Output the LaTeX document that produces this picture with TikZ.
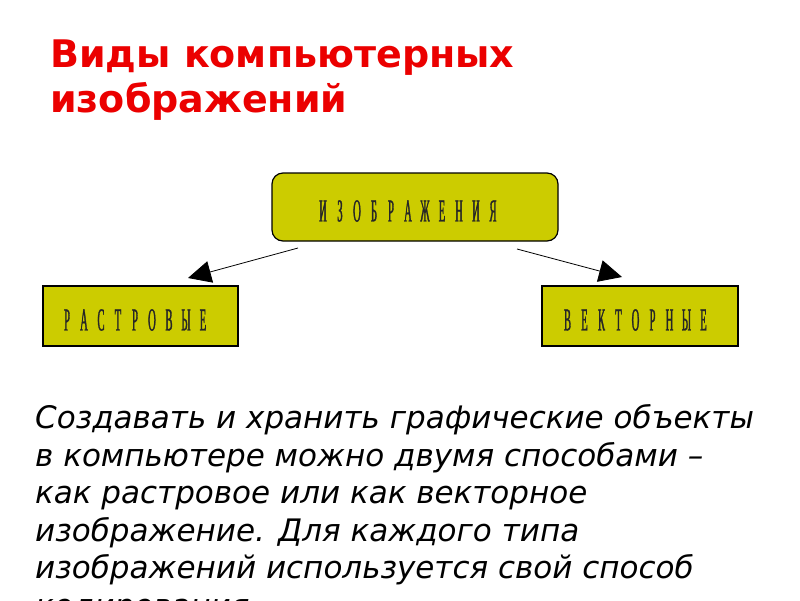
\documentclass[tikz,border=0pt]{standalone}
\usepackage{fontspec}
\setmainfont{DejaVu Sans}
\newfontfamily\boxfont[FakeStretch=0.33,FakeBold=1]{Liberation Serif}
\usetikzlibrary{arrows.meta}
\definecolor{boxfill}{RGB}{204,204,0}
\definecolor{titlered}{RGB}{235,0,0}
\newcommand\ltr[1]{\makebox[17pt][c]{#1}}
\tikzset{
  kindbox/.style={draw=black, line width=1.2pt, fill=boxfill, inner sep=0pt},
  boxtext/.style={font=\boxfont\fontsize{32}{32}\selectfont, text=black!85},
  title/.style={font=\bfseries\fontsize{38}{38}\selectfont, text=titlered, anchor=base west, inner sep=0pt},
  body/.style={font=\itshape\fontsize{31}{31}\selectfont, text=black, anchor=base west, inner sep=0pt},
  arr/.style={line width=0.8pt, -{Triangle[length=23pt,width=22pt]}}
}
\begin{document}
\begin{tikzpicture}[x=1pt,y=-1pt]
\useasboundingbox[fill=white] (0,0) rectangle (800,600);
\begin{scope}
\clip (0,0) rectangle (800,600);
\node[title] (t1) at (50,67) {Виды компьютерных};
\node[title] (t2) at (50,112) {изображений};

\node[kindbox, rounded corners=11pt, minimum width=286pt, minimum height=68pt] (top) at (415,207) {};
\node[boxtext] (toptxt) at (408,211) {\ltr{И}\ltr{З}\ltr{О}\ltr{Б}\ltr{Р}\ltr{А}\ltr{Ж}\ltr{Е}\ltr{Н}\ltr{И}\ltr{Я}};

\node[kindbox, minimum width=195pt, minimum height=60pt] (left) at (140.5,316) {};
\node[boxtext] (lefttxt) at (135,320) {\ltr{Р}\ltr{А}\ltr{С}\ltr{Т}\ltr{Р}\ltr{О}\ltr{В}\ltr{Ы}\ltr{Е}};

\node[kindbox, minimum width=196pt, minimum height=60pt] (right) at (640,316) {};
\node[boxtext] (righttxt) at (635.5,320) {\ltr{В}\ltr{Е}\ltr{К}\ltr{Т}\ltr{О}\ltr{Р}\ltr{Н}\ltr{Ы}\ltr{Е}};

\coordinate (la) at (298,248);
\coordinate (lb) at (188,278);
\coordinate (ra) at (517,249);
\coordinate (rb) at (622,277);
\draw[arr] (la) -- (lb);
\draw[arr] (ra) -- (rb);

\node[body] (b1) at (35,428) {Создавать и хранить графические объекты};
\node[body] (b2) at (35,466) {в компьютере можно двумя способами –};
\node[body] (b3) at (35,503) {как растровое или как векторное};
\node[body] (b4) at (35,541) {изображение. Для каждого типа};
\node[body] (b5) at (35,578) {изображений используется свой способ};
\node[body] (b6) at (35,616) {кодирования.};
\end{scope}
\end{tikzpicture}
\end{document}
